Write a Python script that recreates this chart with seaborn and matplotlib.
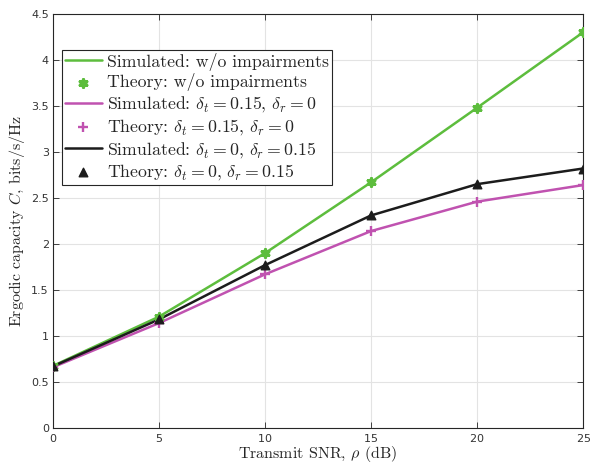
import matplotlib
matplotlib.use("Agg")
import matplotlib.pyplot as plt
import seaborn as sns
import pandas as pd

snr_db = [0, 5, 10, 15, 20, 25]
cap_ideal = [0.675, 1.21, 1.90, 2.67, 3.48, 4.30]
cap_tx = [0.66, 1.14, 1.67, 2.14, 2.46, 2.64]
cap_rx = [0.67, 1.18, 1.77, 2.31, 2.65, 2.82]

green = "#5dbd3d"
magenta = "#c052b0"
black = "#1c1c1c"

sns.set_theme(style="whitegrid")
plt.rcParams["mathtext.fontset"] = "cm"
plt.rcParams["font.family"] = ["DejaVu Sans"]
plt.rcParams["axes.formatter.use_mathtext"] = True

fig = plt.figure(figsize=(5.98, 4.65), dpi=100)
ax = fig.add_axes([0.0886, 0.0796, 0.8864, 0.8904])

df = pd.DataFrame({"snr": snr_db, "ideal": cap_ideal, "tx": cap_tx, "rx": cap_rx})

labels = [
    "Simulated: w/o impairments",
    "Theory: w/o impairments",
    r"Simulated: $\delta_t = 0.15$, $\delta_r = 0$",
    r"Theory: $\delta_t = 0.15$, $\delta_r = 0$",
    r"Simulated: $\delta_t = 0$, $\delta_r = 0.15$",
    r"Theory: $\delta_t = 0$, $\delta_r = 0.15$",
]

sns.lineplot(data=df, x="snr", y="ideal", color=green, lw=1.8, ax=ax, label=labels[0])
sns.scatterplot(data=df, x="snr", y="ideal", color=green, marker=(6, 2, 0), s=28,
                linewidth=2.4, edgecolor=green, ax=ax, label=labels[1], zorder=4)
sns.lineplot(data=df, x="snr", y="tx", color=magenta, lw=1.8, ax=ax, label=labels[2])
sns.scatterplot(data=df, x="snr", y="tx", color=magenta, marker="+", s=45,
                linewidth=1.7, ax=ax, label=labels[3], zorder=4)
sns.lineplot(data=df, x="snr", y="rx", color=black, lw=1.8, ax=ax, label=labels[4])
sns.scatterplot(data=df, x="snr", y="rx", color=black, marker="^", s=38,
                edgecolor=black, linewidth=1, ax=ax, label=labels[5], zorder=5)

ax.set_xlim(0, 25)
ax.set_ylim(0, 4.5)
ax.set_xticks(range(0, 26, 5))
ax.set_yticks([0, 0.5, 1, 1.5, 2, 2.5, 3, 3.5, 4, 4.5])
ax.set_yticklabels(["0", "0.5", "1", "1.5", "2", "2.5", "3", "3.5", "4", "4.5"])
ax.set_facecolor("white")
ax.grid(True, color="#e3e3e3", lw=0.8)
for s in ax.spines.values():
    s.set_visible(True)
    s.set_color("#262626")
    s.set_linewidth(0.8)
ax.tick_params(axis="both", direction="in", length=4, width=0.6, colors="#262626",
               labelcolor="#333333", labelsize=8, top=True, right=True, bottom=True, left=True,
               pad=3)

ax.set_xlabel(r"Transmit SNR, $\rho$ (dB)", fontsize=11.5, color="#262626", labelpad=0,
              family="cmr10")
ax.set_ylabel(r"Ergodic capacity $C$, bits/s/Hz", fontsize=11.5, color="#262626", labelpad=3,
              family="cmr10")

leg = ax.legend(loc="upper left", bbox_to_anchor=(0.017, 0.913),
                prop={"family": "cmr10", "size": 12.8}, frameon=True,
                fancybox=False, edgecolor="#262626", framealpha=1, borderpad=0.15,
                labelspacing=0.16, handlelength=2.1, handletextpad=0.3, borderaxespad=0)
leg.get_frame().set_linewidth(0.8)

fig.savefig("out.png", dpi=100)
